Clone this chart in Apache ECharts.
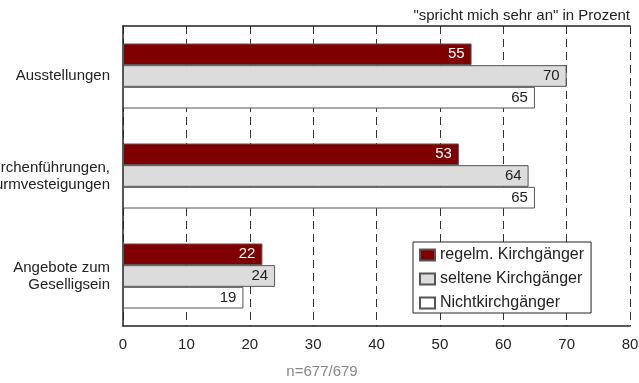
<!DOCTYPE html>
<html><head><meta charset="utf-8">
<script src="https://cdn.jsdelivr.net/npm/echarts@6/dist/echarts.min.js"></script>
<style>html,body{margin:0;padding:0;background:#fff}#c{width:639px;height:383px}</style>
</head><body><div id="c"></div>
<script>
var categories = ["Ausstellungen", "Kirchenführungen,\nTurmvesteigungen", "Angebote zum\nGeselligsein"];
var seriesNames = ["regelm. Kirchgänger", "seltene Kirchgänger", "Nichtkirchgänger"];
var regelm = [55, 53, 22];
var selten = [70, 64, 24];
var nicht = [65, 65, 19];
var xTicks = [0, 10, 20, 30, 40, 50, 60, 70, 80];

var font = "'Liberation Sans', Arial, sans-serif";
var colors = ["#7f0000", "#dcdcdc", "#ffffff"];
var labelColors = ["#ffffff", "#222222", "#222222"];
var data = [regelm, selten, nicht];

var chart = echarts.init(document.getElementById('c'), null, {renderer: 'canvas'});
var series = data.map(function (d, i) {
  return {
    name: seriesNames[i], type: 'bar', data: d,
    barGap: '0%', barCategoryGap: '35%',
    itemStyle: {color: colors[i], borderColor: '#555', borderWidth: 1},
    label: {show: true, position: 'insideRight', distance: 7, color: labelColors[i], fontSize: 15, fontFamily: font},
    emphasis: {disabled: true}
  };
});
chart.setOption({
  animation: false,
  textStyle: {fontFamily: font},
  title: [
    {text: '"spricht mich sehr an" in Prozent', right: 9, top: 8, padding: 0, textStyle: {fontSize: 15, fontWeight: 'normal', color: '#222', fontFamily: font}},
    {text: 'n=677/679', left: 322, textAlign: 'center', top: 364, padding: 0, textStyle: {fontSize: 15, fontWeight: 'normal', color: '#888', fontFamily: font}}
  ],
  grid: {left: 123, right: 9, top: 26, bottom: 57, containLabel: false, outerBoundsMode: 'none'},
  legend: {
    orient: 'vertical', left: 413, top: 242, icon: 'rect', itemWidth: 15, itemHeight: 11, itemGap: 8,
    padding: [5, 7, 2, 6], borderColor: '#222', borderWidth: 1, backgroundColor: '#fff',
    textStyle: {fontSize: 16, color: '#222', fontFamily: font},
    data: seriesNames
  },
  xAxis: [{
    type: 'value', min: xTicks[0], max: xTicks[xTicks.length - 1], interval: 10,
    axisLine: {show: true, lineStyle: {color: '#222', width: 1.5}},
    axisTick: {show: false},
    axisLabel: {color: '#222', fontSize: 15, margin: 11, fontFamily: font},
    splitLine: {show: true, lineStyle: {color: '#333', type: [8, 5], width: 1}}
  }, {
    type: 'value', position: 'top', min: 0, max: 80,
    axisLine: {show: true, onZero: false, lineStyle: {color: '#222', width: 1.5}},
    axisTick: {show: false}, axisLabel: {show: false}, splitLine: {show: false}
  }],
  yAxis: {
    type: 'category', data: categories, inverse: true,
    axisLine: {show: true, lineStyle: {color: '#222', width: 1.5}},
    axisTick: {show: false},
    axisLabel: {color: '#222', fontSize: 15, margin: 13, lineHeight: 17, align: 'right', fontFamily: font},
    splitLine: {show: false}
  },
  series: series
});
</script></body></html>
